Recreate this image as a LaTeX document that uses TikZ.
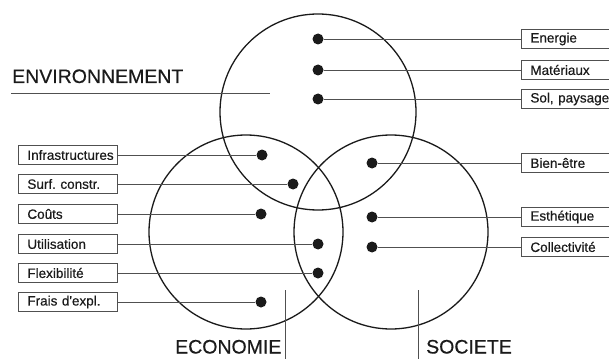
\documentclass[tikz,border=0pt]{standalone}
\usepackage{fontspec}
\setmainfont{Liberation Sans}
\newfontfamily\thick[FakeBold=0.5]{Liberation Sans}
\definecolor{ink}{HTML}{1A1A1A}
\definecolor{wire}{HTML}{505050}
\tikzset{
	lbl/.style={draw=wire,line width=0.8pt,minimum height=19pt,inner xsep=9pt,inner ysep=0pt,align=left,anchor=west,text=ink,font=\thick\fontsize{13.5}{15}\selectfont},
	lblL/.style={lbl,text width=81pt},
	lblR/.style={lbl,text width=90pt},
	pt/.style={circle,fill=ink,inner sep=0pt,minimum size=11pt},
	ring/.style={draw=ink,line width=1.3pt},
	lead/.style={draw=wire,line width=0.9pt},
	big/.style={text=ink,inner sep=0pt,font=\thick\fontsize{19.5}{22}\selectfont}
}
\begin{document}
\begin{tikzpicture}[x=1pt,y=-1pt]
	\useasboundingbox(0,0)rectangle(609,358);
	\draw[ring](318,112)circle(98);
	\draw[ring](246,232)circle(97);
	\draw[ring](391,232)circle(97);
	\node[big,anchor=base west](env)at(12,83){ENVIRONNEMENT};
	\coordinate(envA)at(11,93);
	\coordinate(envB)at(270,93);
	\draw[lead](envA)--(envB);
	\node[big,anchor=base west](eco)at(175,353.5){ECONOMIE};
	\coordinate(ecoA)at(285,290);
	\coordinate(ecoB)at(285,360);
	\draw[lead](ecoA)--(ecoB);
	\node[big,anchor=base west](soc)at(426,353.5){SOCIETE};
	\coordinate(socA)at(418,290);
	\coordinate(socB)at(418,360);
	\draw[lead](socA)--(socB);
	\node[pt](p-energie)at(318,39){};
	\node[pt](p-materiaux)at(318,70){};
	\node[pt](p-sol)at(318,99){};
	\node[pt](p-bienetre)at(372,163){};
	\node[pt](p-esthetique)at(372,217){};
	\node[pt](p-collect)at(372,247){};
	\node[pt](p-infra)at(262,155){};
	\node[pt](p-surf)at(293,184){};
	\node[pt](p-couts)at(261,214){};
	\node[pt](p-util)at(318,244){};
	\node[pt](p-flex)at(318,273){};
	\node[pt](p-frais)at(261,302){};
	\node[lblR](energie)at(521,39){Energie};
	\node[lblR](materiaux)at(521,70){Matériaux};
	\node[lblR](sol)at(521,99){Sol, paysage};
	\node[lblR](bienetre)at(521,163){Bien-être};
	\node[lblR](esthetique)at(521,217){Esthétique};
	\node[lblR](collect)at(521,247){Collectivité};
	\node[lblL](infra)at(18,155){Infrastructures};
	\node[lblL](surf)at(18,184){Surf.\ constr.};
	\node[lblL](couts)at(18,214){Coûts};
	\node[lblL](util)at(18,244){Utilisation};
	\node[lblL](flex)at(18,273){Flexibilité};
	\node[lblL](frais)at(18,302){Frais d\textquotesingle expl.};
	\draw[lead](p-energie)--(energie);
	\draw[lead](p-materiaux)--(materiaux);
	\draw[lead](p-sol)--(sol);
	\draw[lead](p-bienetre)--(bienetre);
	\draw[lead](p-esthetique)--(esthetique);
	\draw[lead](p-collect)--(collect);
	\draw[lead](infra)--(p-infra);
	\draw[lead](surf)--(p-surf);
	\draw[lead](couts)--(p-couts);
	\draw[lead](util)--(p-util);
	\draw[lead](flex)--(p-flex);
	\draw[lead](frais)--(p-frais);
\end{tikzpicture}
\end{document}
